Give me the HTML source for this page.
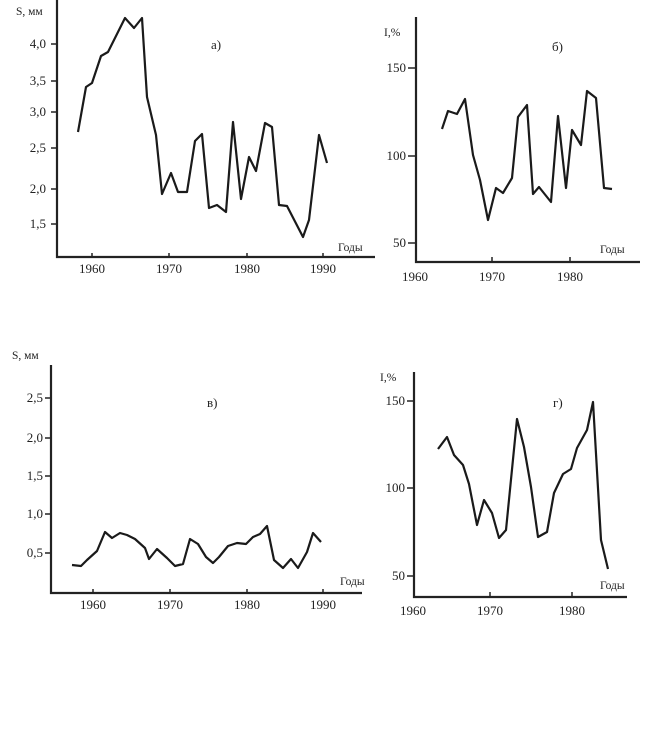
<!DOCTYPE html>
<html><head><meta charset="utf-8"><style>
html,body{margin:0;padding:0;background:#fff;}
svg{display:block;}
text{font-family:"Liberation Serif","DejaVu Serif",serif;fill:#222;font-size:13px;}
.ax{stroke:#222;stroke-width:2.2;fill:none;}
.tk{stroke:#222;stroke-width:1.5;}
.ln{stroke:#1a1a1a;stroke-width:2.2;fill:none;stroke-linejoin:round;}
</style></head><body>
<svg width="649" height="744" viewBox="0 0 649 744" xmlns="http://www.w3.org/2000/svg">
<rect width="649" height="744" fill="#fff"/>

<!-- Panel a -->
<path class="ax" d="M57,0 V257 H375"/>
<g class="tk">
<line x1="51" y1="44" x2="57" y2="44"/><line x1="51" y1="81" x2="57" y2="81"/>
<line x1="51" y1="112" x2="57" y2="112"/><line x1="51" y1="148" x2="57" y2="148"/>
<line x1="51" y1="189" x2="57" y2="189"/><line x1="51" y1="224" x2="57" y2="224"/>
<line x1="92" y1="253" x2="92" y2="257"/><line x1="169" y1="253" x2="169" y2="257"/>
<line x1="247" y1="253" x2="247" y2="257"/><line x1="323" y1="253" x2="323" y2="257"/>
</g>
<g text-anchor="end">
<text x="46" y="48">4,0</text><text x="46" y="85">3,5</text><text x="46" y="116">3,0</text>
<text x="46" y="152">2,5</text><text x="46" y="193">2,0</text><text x="46" y="228">1,5</text>
</g>
<g text-anchor="middle">
<text x="92" y="273">1960</text><text x="169" y="273">1970</text>
<text x="247" y="273">1980</text><text x="323" y="273">1990</text>
</g>
<text x="16" y="15" style="font-size:11.5px">S, мм</text>
<text x="211" y="49">а)</text>
<text x="338" y="251" style="font-size:11.5px">Годы</text>
<polyline class="ln" points="78,132 86,87 92,83 101,56 108,52 125,18 134,28 142,18 147,97 156,135 162,194 171,173 178,192 187,192 195,141 202,134 209,208 217,205 226,212 233,122 241,199 249,157 256,171 265,123 272,127 279,205 287,206 303,237 309,220 319,135 327,163"/>

<!-- Panel б -->
<path class="ax" d="M416,17 V262 H640"/>
<g class="tk">
<line x1="408" y1="68" x2="416" y2="68"/><line x1="408" y1="156" x2="416" y2="156"/>
<line x1="408" y1="243" x2="416" y2="243"/>
<line x1="492" y1="257" x2="492" y2="262"/><line x1="570" y1="257" x2="570" y2="262"/>
</g>
<g text-anchor="end">
<text x="406" y="72">150</text><text x="406" y="160">100</text><text x="406" y="247">50</text>
</g>
<g text-anchor="middle">
<text x="415" y="281">1960</text><text x="492" y="281">1970</text><text x="570" y="281">1980</text>
</g>
<text x="384" y="36" style="font-size:11.5px">I,%</text>
<text x="552" y="51">б)</text>
<text x="600" y="253" style="font-size:11.5px">Годы</text>
<polyline class="ln" points="442,129 448,111 457,114 465,99 473,155 480,180 488,220 496,188 503,193 512,178 518,117 527,105 533,194 539,187 551,202 558,116 566,188 572,130 581,145 587,91 596,98 604,188 612,189"/>

<!-- Panel в -->
<path class="ax" d="M51,365 V593 H362"/>
<g class="tk">
<line x1="45" y1="398" x2="51" y2="398"/><line x1="45" y1="438" x2="51" y2="438"/>
<line x1="45" y1="476" x2="51" y2="476"/><line x1="45" y1="514" x2="51" y2="514"/>
<line x1="45" y1="553" x2="51" y2="553"/>
<line x1="93" y1="589" x2="93" y2="593"/><line x1="170" y1="589" x2="170" y2="593"/>
<line x1="247" y1="589" x2="247" y2="593"/><line x1="323" y1="589" x2="323" y2="593"/>
</g>
<g text-anchor="end">
<text x="43" y="402">2,5</text><text x="43" y="442">2,0</text><text x="43" y="480">1,5</text>
<text x="43" y="518">1,0</text><text x="43" y="557">0,5</text>
</g>
<g text-anchor="middle">
<text x="93" y="609">1960</text><text x="170" y="609">1970</text>
<text x="247" y="609">1980</text><text x="323" y="609">1990</text>
</g>
<text x="12" y="359" style="font-size:11.5px">S, мм</text>
<text x="207" y="407">в)</text>
<text x="340" y="585" style="font-size:11.5px">Годы</text>
<polyline class="ln" points="72,565 81,566 87,560 97,551 105,532 112,538 120,533 127,535 135,539 145,548 149,559 157,549 167,558 175,566 183,564 190,539 198,544 206,557 213,563 219,557 228,546 237,543 246,544 253,537 260,534 267,526 274,560 283,568 291,559 298,568 307,552 313,533 321,542"/>

<!-- Panel г -->
<path class="ax" d="M414,372 V597 H627"/>
<g class="tk">
<line x1="407" y1="401" x2="414" y2="401"/><line x1="407" y1="488" x2="414" y2="488"/>
<line x1="407" y1="576" x2="414" y2="576"/>
<line x1="490" y1="592" x2="490" y2="597"/><line x1="572" y1="592" x2="572" y2="597"/>
</g>
<g text-anchor="end">
<text x="405" y="405">150</text><text x="405" y="492">100</text><text x="405" y="580">50</text>
</g>
<g text-anchor="middle">
<text x="413" y="615">1960</text><text x="490" y="615">1970</text><text x="572" y="615">1980</text>
</g>
<text x="380" y="381" style="font-size:11.5px">I,%</text>
<text x="553" y="407">г)</text>
<text x="600" y="589" style="font-size:11.5px">Годы</text>
<polyline class="ln" points="438,449 447,437 454,455 463,465 469,484 477,525 484,500 492,513 499,538 506,530 517,419 524,447 531,487 538,537 547,532 554,493 563,474 571,469 577,448 587,430 593,402 601,540 608,569"/>
</svg>
</body></html>
